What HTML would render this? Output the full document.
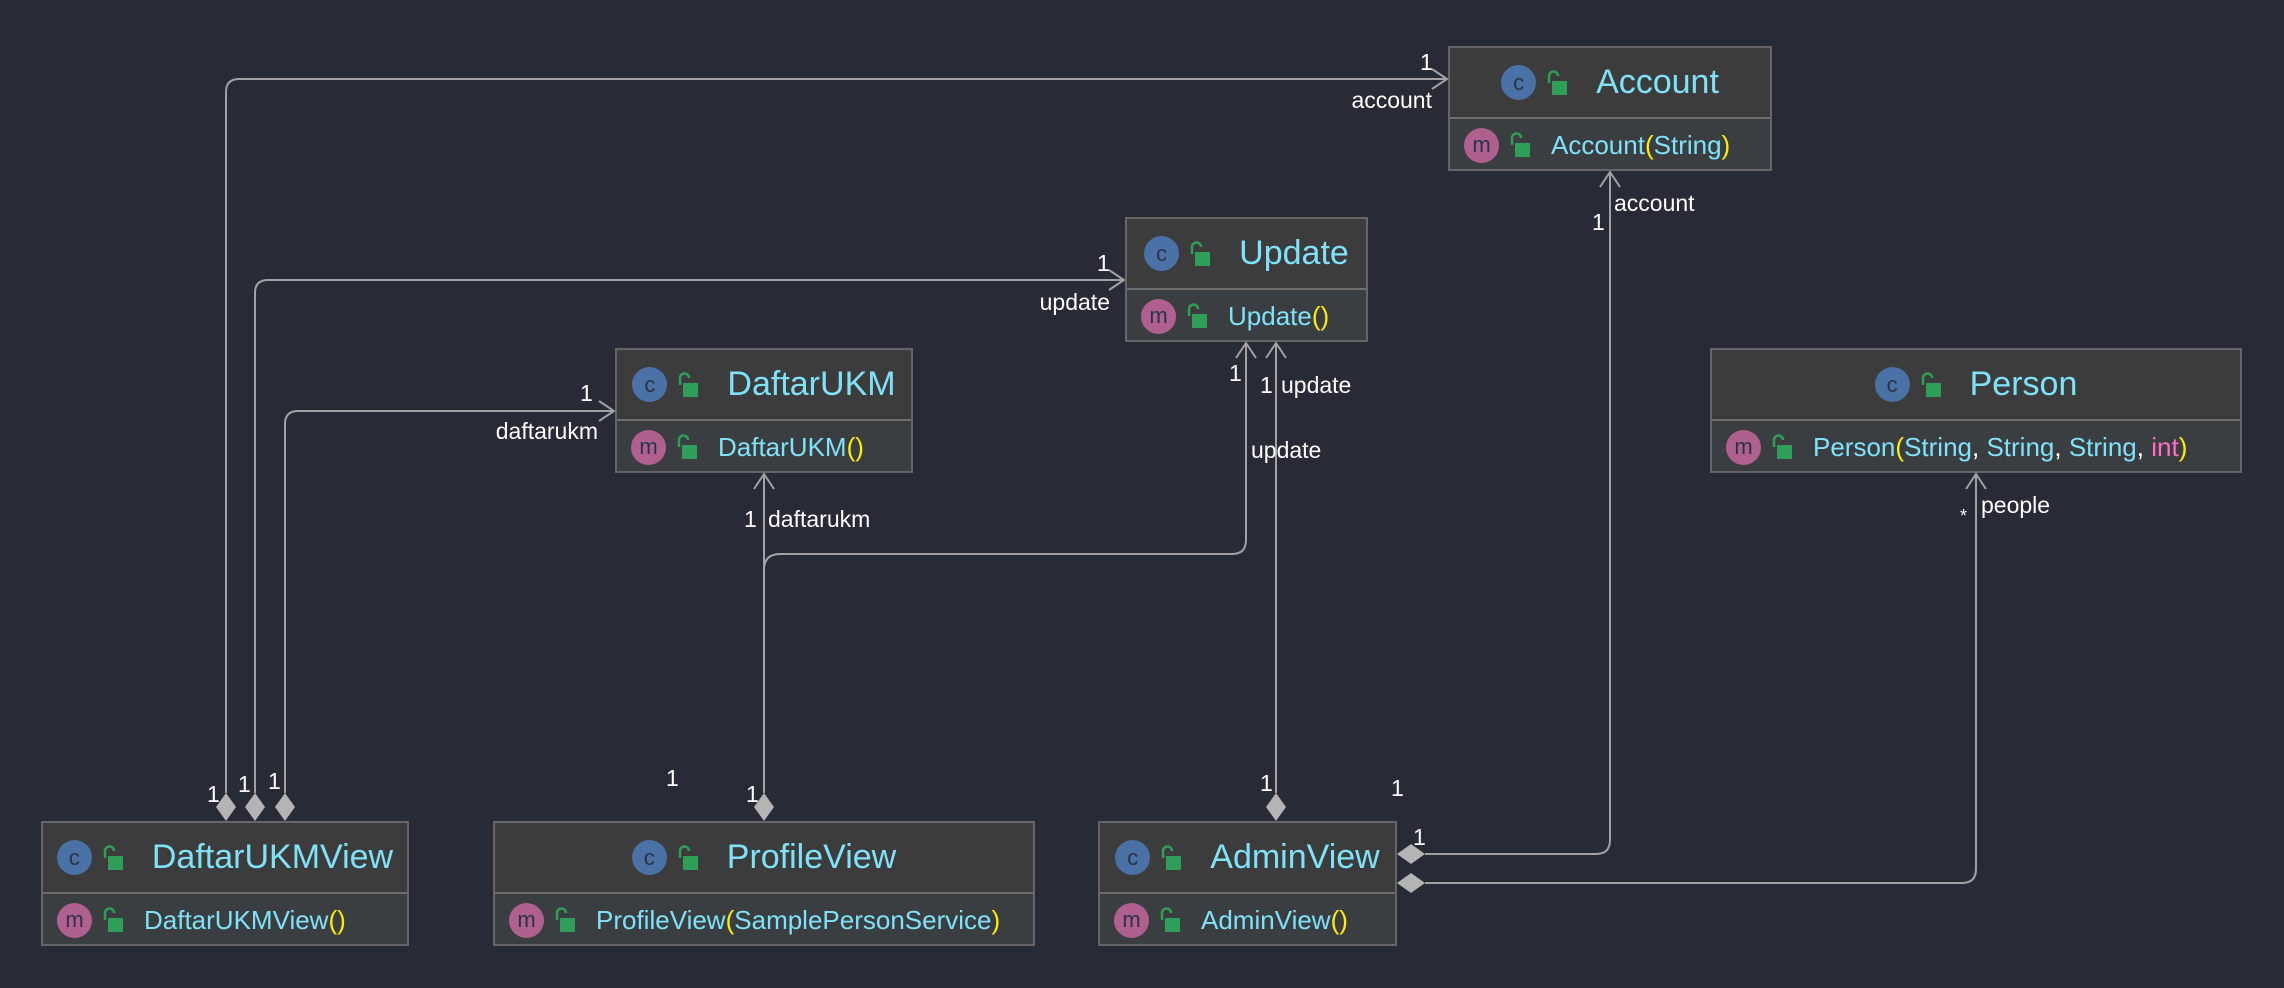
<!DOCTYPE html>
<html><head><meta charset="utf-8"><style>
body{margin:0;width:2284px;height:988px;background:#282a36;overflow:hidden;font-family:"Liberation Sans",sans-serif;position:relative}
.box{position:absolute;border:2px solid #666;box-sizing:border-box;background:#3b3e41}
.hd{height:71px;background:#3c3c3c;border-bottom:2px solid #6e6e6e;box-sizing:border-box;display:flex;align-items:center;justify-content:center}
.bd{display:flex;align-items:center;padding-left:14px;height:52px}
.ci{width:35px;height:35px;border-radius:50%;background:#4a72a6;color:#2a3346;font-size:22px;display:flex;align-items:center;justify-content:center;line-height:1}
.mi{background:#b0608f}
.lk{width:22px;height:26px;margin-left:10px}
.t{color:#7fe2f8;font-size:34px;margin-left:28px}
.m{color:#7fe2f8;font-size:26px;margin-left:20px}
.y{color:#ffee00}.w{color:#fff}.p{color:#ff6ec7}
</style></head><body>
<svg width="0" height="0" style="position:absolute"><defs><g id="lock"><path d="M3 13 V6 a4.5 4.5 0 0 1 9 0" fill="none" stroke="#2f9e58" stroke-width="2.5"/><rect x="6" y="11" width="15" height="14" fill="#2f9e58"/></g></defs></svg>

<div class="box" style="left:1448px;top:46px;width:324px;height:125px"><div class="hd"><div class="ci">c</div><svg class="lk"><use href="#lock"/></svg><span class="t">Account</span></div><div class="bd"><div class="ci mi">m</div><svg class="lk"><use href="#lock"/></svg><span class="m">Account<span class="y">(</span>String<span class="y">)</span></span></div></div>

<div class="box" style="left:1125px;top:217px;width:243px;height:125px"><div class="hd"><div class="ci">c</div><svg class="lk"><use href="#lock"/></svg><span class="t">Update</span></div><div class="bd"><div class="ci mi">m</div><svg class="lk"><use href="#lock"/></svg><span class="m">Update<span class="y">()</span></span></div></div>

<div class="box" style="left:615px;top:348px;width:298px;height:125px"><div class="hd"><div class="ci">c</div><svg class="lk"><use href="#lock"/></svg><span class="t">DaftarUKM</span></div><div class="bd"><div class="ci mi">m</div><svg class="lk"><use href="#lock"/></svg><span class="m">DaftarUKM<span class="y">()</span></span></div></div>

<div class="box" style="left:1710px;top:348px;width:532px;height:125px"><div class="hd"><div class="ci">c</div><svg class="lk"><use href="#lock"/></svg><span class="t">Person</span></div><div class="bd"><div class="ci mi">m</div><svg class="lk"><use href="#lock"/></svg><span class="m">Person<span class="y">(</span>String<span class="w">,</span> String<span class="w">,</span> String<span class="w">,</span> <span class="p">int</span><span class="y">)</span></span></div></div>

<div class="box" style="left:41px;top:821px;width:368px;height:125px"><div class="hd"><div class="ci">c</div><svg class="lk"><use href="#lock"/></svg><span class="t">DaftarUKMView</span></div><div class="bd"><div class="ci mi">m</div><svg class="lk"><use href="#lock"/></svg><span class="m">DaftarUKMView<span class="y">()</span></span></div></div>

<div class="box" style="left:493px;top:821px;width:542px;height:125px"><div class="hd"><div class="ci">c</div><svg class="lk"><use href="#lock"/></svg><span class="t">ProfileView</span></div><div class="bd"><div class="ci mi">m</div><svg class="lk"><use href="#lock"/></svg><span class="m">ProfileView<span class="y">(</span>SamplePersonService<span class="y">)</span></span></div></div>

<div class="box" style="left:1098px;top:821px;width:299px;height:125px"><div class="hd"><div class="ci">c</div><svg class="lk"><use href="#lock"/></svg><span class="t">AdminView</span></div><div class="bd"><div class="ci mi">m</div><svg class="lk"><use href="#lock"/></svg><span class="m">AdminView<span class="y">()</span></span></div></div>

<svg width="2284" height="988" style="position:absolute;left:0;top:0" font-family="Liberation Sans, sans-serif" font-size="23" fill="#fff">
<g fill="none" stroke="#a2a2a2" stroke-width="2">
<path d="M226,793 V92 Q226,79 239,79 H1446"/><path d="M1432,69 L1447,79 L1432,89"/>
<path d="M255,793 V293 Q255,280 268,280 H1123"/><path d="M1109,270 L1124,280 L1109,290"/>
<path d="M285,793 V424 Q285,411 298,411 H613"/><path d="M599,401 L614,411 L599,421"/>
<path d="M764,793 V475"/><path d="M754,489 L764,474 L774,489"/>
<path d="M764,570 Q764,554 780,554 H1232 Q1246,554 1246,540 V344"/><path d="M1236,358 L1246,343 L1256,358"/>
<path d="M1276,793 V344"/><path d="M1266,358 L1276,343 L1286,358"/>
<path d="M1425,854 H1596 Q1610,854 1610,840 V173"/><path d="M1600,187 L1610,172 L1620,187"/>
<path d="M1425,883 H1962 Q1976,883 1976,869 V475"/><path d="M1966,489 L1976,474 L1986,489"/>
</g>
<g fill="#b4b4b4">
<path d="M226,793 L236,807 L226,821 L216,807Z"/><path d="M255,793 L265,807 L255,821 L245,807Z"/><path d="M285,793 L295,807 L285,821 L275,807Z"/>
<path d="M764,793 L774,807 L764,821 L754,807Z"/><path d="M1276,793 L1286,807 L1276,821 L1266,807Z"/>
<path d="M1397,854 L1411,844 L1425,854 L1411,864Z"/><path d="M1397,883 L1411,873 L1425,883 L1411,893Z"/>
</g>
<text x="1420" y="70">1</text><text x="1432" y="108" text-anchor="end">account</text>
<text x="1097" y="271">1</text><text x="1110" y="310" text-anchor="end">update</text>
<text x="580" y="401">1</text><text x="598" y="439" text-anchor="end">daftarukm</text>
<text x="744" y="527">1</text><text x="768" y="527">daftarukm</text>
<text x="1229" y="381">1</text><text x="1260" y="393">1</text><text x="1281" y="393">update</text><text x="1251" y="458">update</text>
<text x="1592" y="230">1</text><text x="1614" y="211">account</text>
<text x="1960" y="522" font-size="18">*</text><text x="1981" y="513">people</text>
<text x="207" y="802">1</text><text x="238" y="792">1</text><text x="268" y="789">1</text>
<text x="666" y="786">1</text><text x="746" y="802">1</text>
<text x="1260" y="791">1</text><text x="1391" y="796">1</text><text x="1413" y="845">1</text>
</svg>
</body></html>
